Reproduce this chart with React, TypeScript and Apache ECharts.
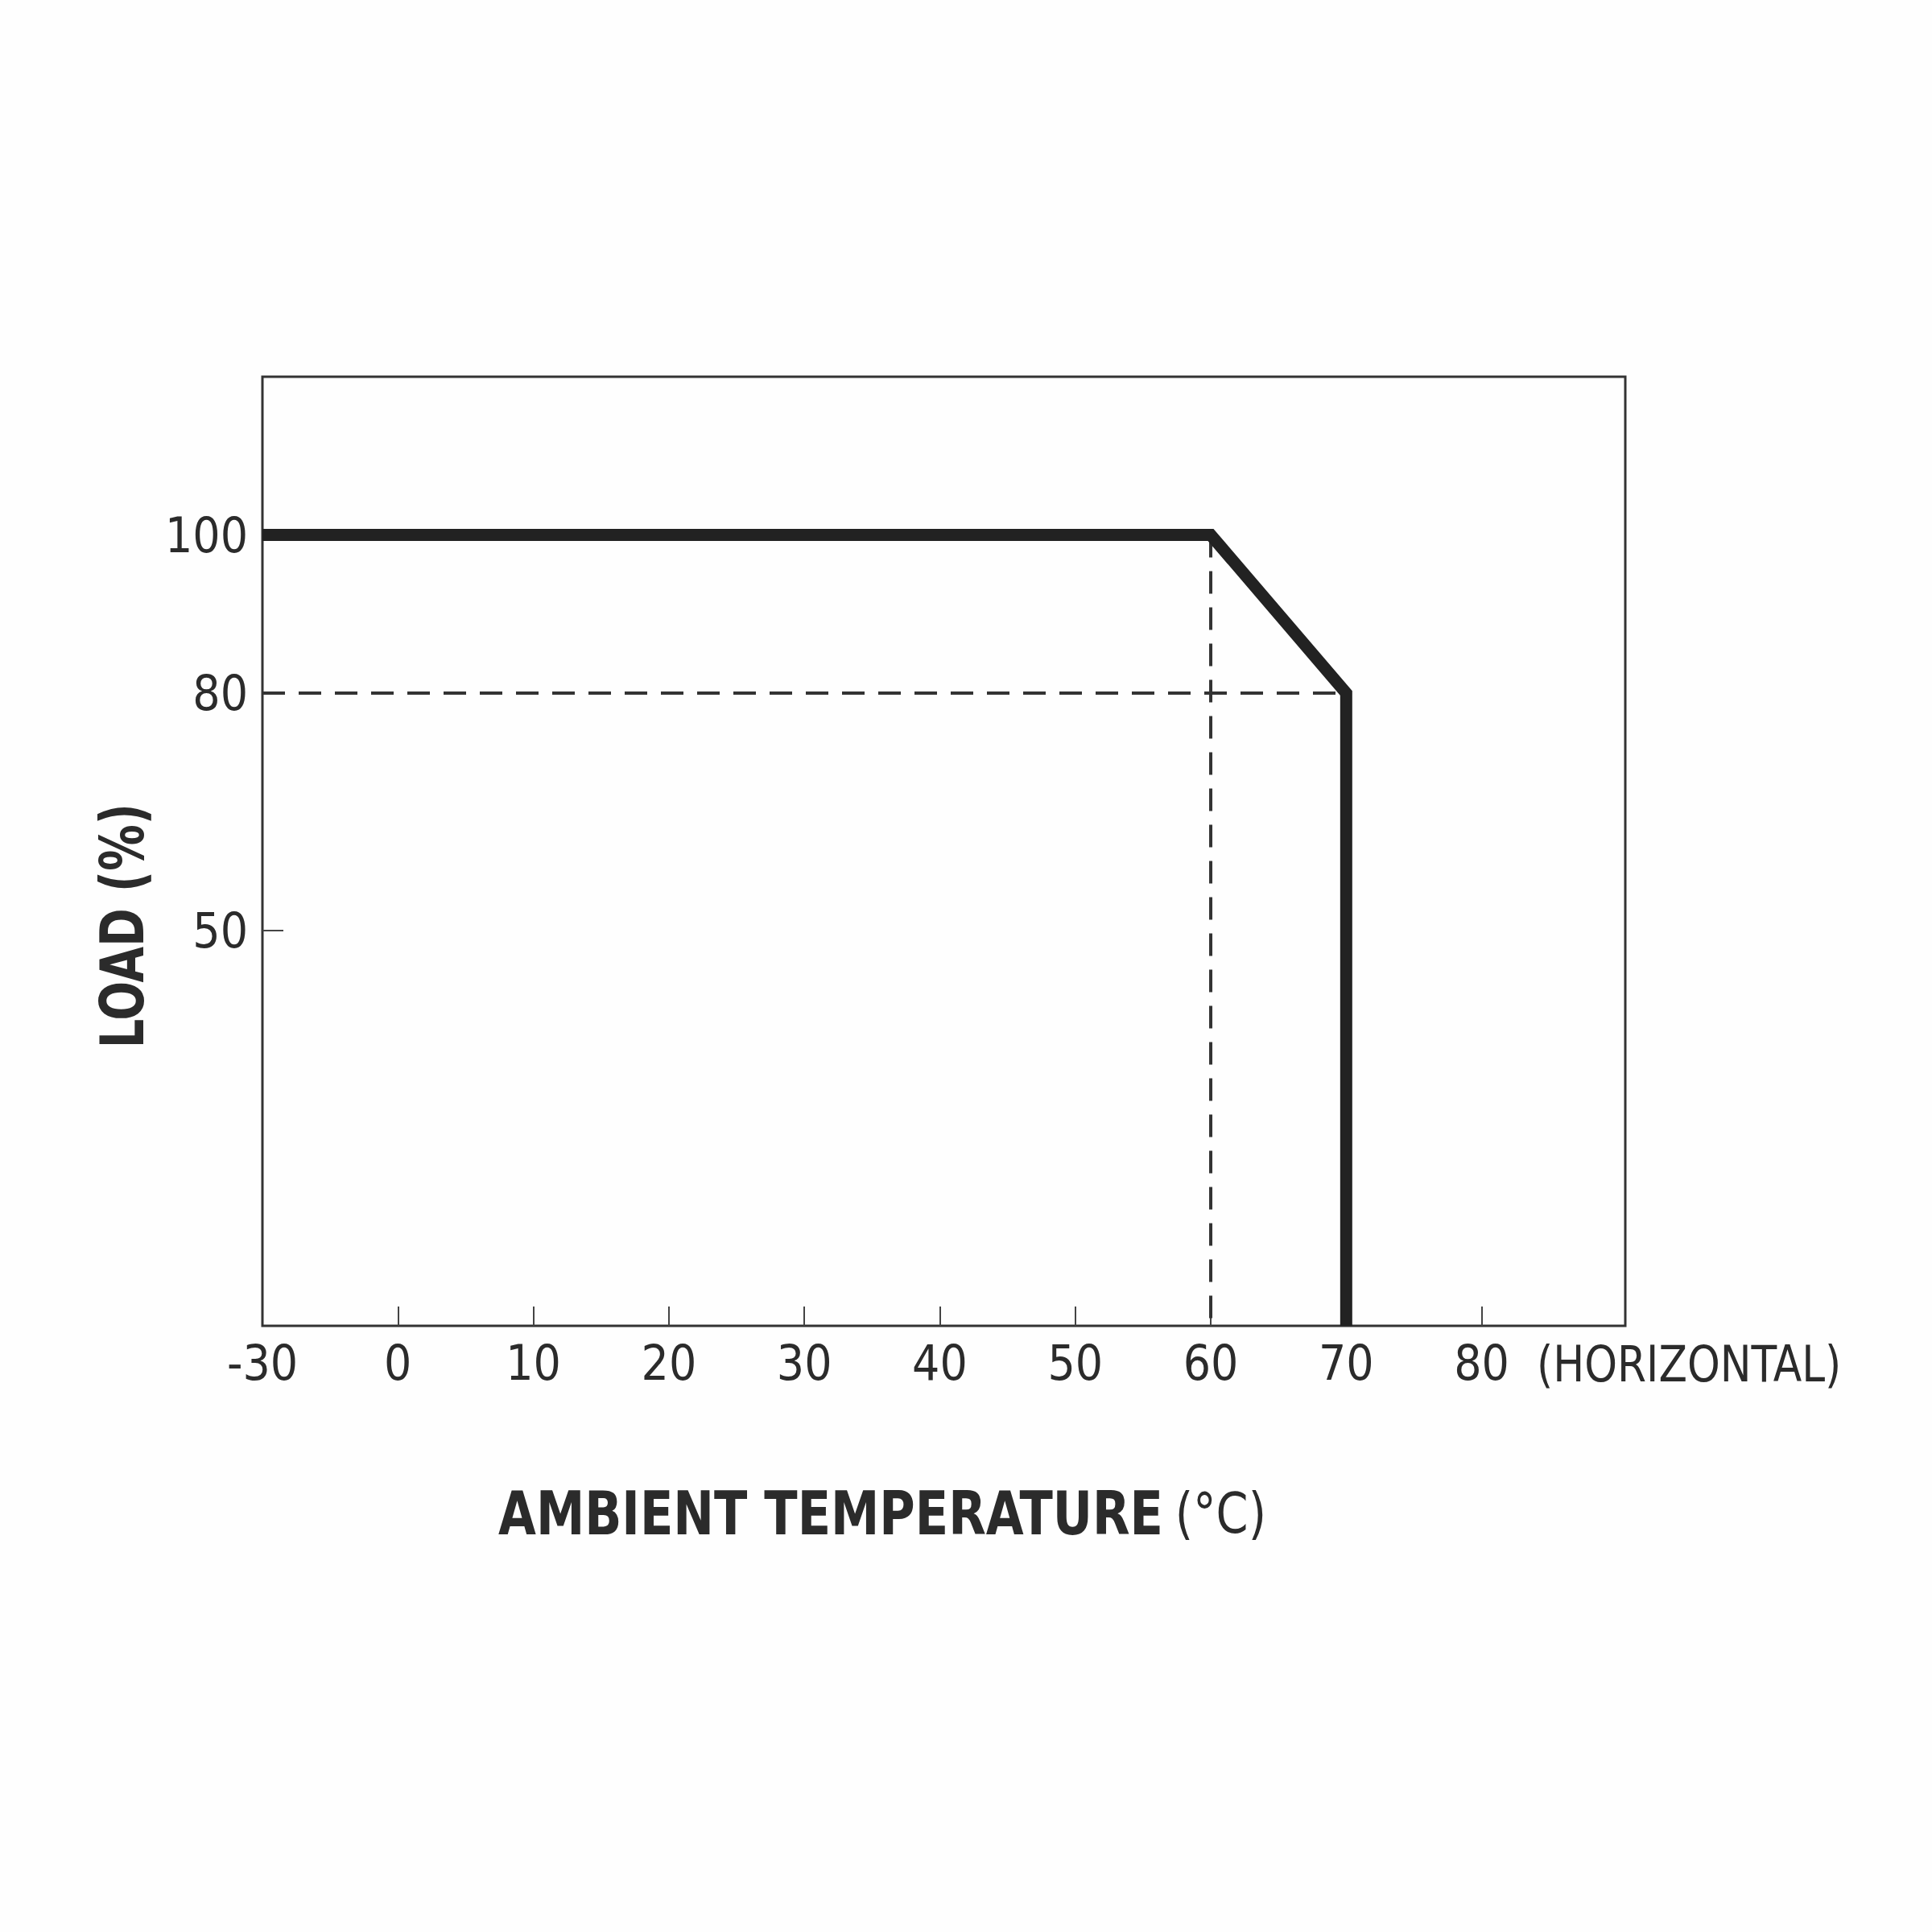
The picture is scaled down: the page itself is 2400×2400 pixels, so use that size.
import React, { useEffect, useRef } from "react";
import * as echarts from "echarts";

// Derating curve (ambient temperature °C -> load %)
const curveTemps = [-30, 60, 70, 70];
const curveLoads = [100, 100, 80, 0];
// Dashed guide lines
const guideHTemps = [-30, 70];
const guideHLoads = [80, 80];
const guideVTemps = [60, 60];
const guideVLoads = [100, 0];
// Axis ticks
const xLabelTemps = [-30, 0, 10, 20, 30, 40, 50, 60, 70, 80];
const xTickTemps = [0, 10, 20, 30, 40, 50, 60, 70, 80];
const yTicks = [50, 80, 100];
// Texts
const xUnitLabel = "(HORIZONTAL)";
const xTitle = "AMBIENT TEMPERATURE";
const xTitleUnit = "(°C)";
const yTitle = "LOAD (%)";

// The x axis is broken: the span -30..0 takes a single division.
const toAxis = (t: number) => (t < 0 ? t / 3 : t);
const fromAxis = (u: number) => (u < 0 ? u * 3 : u);
const pairs = (xs: number[], ys: number[]) => xs.map((x, i) => [toAxis(x), ys[i]]);

const FONT = '"Liberation Sans Narrow", "Arial Narrow", "DejaVu Sans Condensed", "Liberation Sans", sans-serif';
const INK = "#2b2b2b";

export default function App() {
  const ref = useRef<HTMLDivElement>(null);
  useEffect(() => {
    if (!ref.current) return;
    const chart = echarts.init(ref.current, undefined, { renderer: "svg" });
    chart.setOption({
      animation: false,
      backgroundColor: "#fefefe",
      grid: {
        left: 326,
        right: 381,
        top: 468,
        bottom: 753,
        show: true,
        borderColor: "#333",
        borderWidth: 3,
        backgroundColor: "transparent",
      },
      xAxis: {
        type: "value",
        min: -10,
        max: 90.6,
        axisLine: { show: false, onZero: false },
        splitLine: { show: false },
        axisTick: {
          show: true,
          inside: true,
          length: 24,
          customValues: xTickTemps.map(toAxis),
          lineStyle: { color: "#444", width: 2 },
        },
        axisLabel: {
          customValues: xLabelTemps.map(toAxis),
          formatter: (v: number) => String(Math.round(fromAxis(v))),
          margin: 16,
          color: INK,
          fontFamily: FONT,
          fontSize: 60,
        },
      },
      yAxis: {
        type: "value",
        min: 0,
        max: 120,
        axisLine: { show: false, onZero: false },
        splitLine: { show: false },
        axisTick: {
          show: true,
          inside: true,
          length: 26,
          customValues: yTicks,
          lineStyle: { color: "#444", width: 2 },
        },
        axisLabel: {
          customValues: yTicks,
          margin: 18,
          color: INK,
          fontFamily: FONT,
          fontSize: 60,
        },
      },
      graphic: [
        {
          type: "text",
          x: 1909,
          y: 1694,
          scaleX: 0.93,
          style: {
            text: xUnitLabel,
            fill: INK,
            font: `62px ${FONT}`,
            textAlign: "left",
            textVerticalAlign: "middle",
          },
        },
        {
          type: "text",
          x: 1096,
          y: 1880,
          scaleX: 0.91,
          style: {
            text: `{b|${xTitle}}{n|${xTitleUnit}}`,
            fill: INK,
            textAlign: "center",
            textVerticalAlign: "middle",
            rich: {
              b: { fontFamily: FONT, fontSize: 74, fontWeight: "bold", fill: INK },
              n: { fontFamily: FONT, fontSize: 70, fontWeight: "normal", fill: INK, padding: [0, 0, 0, 16] },
            },
          },
        },
        {
          type: "text",
          x: 152,
          y: 1150,
          rotation: Math.PI / 2,
          scaleX: 0.865,
          style: {
            text: yTitle,
            fill: INK,
            font: `bold 74px ${FONT}`,
            textAlign: "center",
            textVerticalAlign: "middle",
          },
        },
      ],
      series: [
        {
          type: "line",
          data: pairs(guideHTemps, guideHLoads),
          showSymbol: false,
          lineStyle: { color: "#333", width: 4, type: [28, 17] },
          z: 2,
        },
        {
          type: "line",
          data: pairs(guideVTemps, guideVLoads),
          showSymbol: false,
          lineStyle: { color: "#333", width: 4, type: [28, 17] },
          z: 2,
        },
        {
          type: "line",
          data: pairs(curveTemps, curveLoads),
          showSymbol: false,
          lineStyle: { color: "#222", width: 15, join: "miter", cap: "butt" },
          z: 3,
        },
      ],
    });
    return () => chart.dispose();
  }, []);
  return (
    <div
      ref={ref}
      style={{ position: "absolute", left: 0, top: 0, width: 2400, height: 2400, background: "#fefefe" }}
    />
  );
}
